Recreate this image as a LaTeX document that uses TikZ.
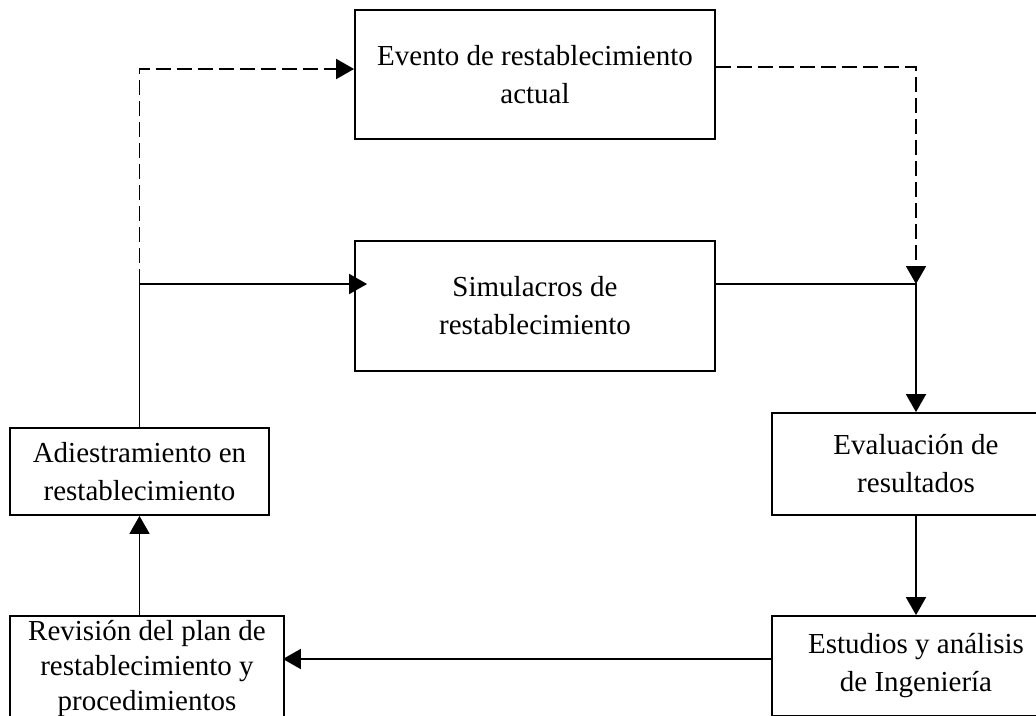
\documentclass[tikz,border=0pt]{standalone}
\usepackage{fontspec}
\setmainfont{Liberation Serif}
\usetikzlibrary{arrows.meta,calc}

\begin{document}
\begin{tikzpicture}[x=1pt, y=-1pt,
    stage/.style={draw=black, line width=1.8pt, fill=white, align=center, inner sep=0pt, font=\fontsize{29}{38}\selectfont},
    flow/.style={line width=1.8pt, -{Triangle[length=18pt, width=20pt]}},
    plan/.style={flow, dash pattern=on 15pt off 6pt}
]
    \useasboundingbox (0,0) rectangle (1036,715);
    \clip (0,0) rectangle (1036,715);

    % --- Stages of the cycle ---
    \node[stage, minimum width=360pt, minimum height=129pt] (evento) at (535,74.5) {Evento de restablecimiento\\actual};
    \node[stage, minimum width=360pt, minimum height=130pt] (simul) at (535,306) {Simulacros de\\restablecimiento};
    \node[stage, minimum width=288pt, minimum height=102pt] (evalua) at (916,464) {Evaluación de\\resultados};
    \node[stage, minimum width=288pt, minimum height=100pt] (estudios) at (916,666) {Estudios y análisis\\de Ingeniería};
    \node[stage, minimum width=274pt, minimum height=104pt, font=\fontsize{29}{35}\selectfont] (revision) at (147,668) {Revisión del plan de\\restablecimiento y\\procedimientos};
    \node[stage, minimum width=259pt, minimum height=87pt] (adiestra) at (139.5,471.5) {Adiestramiento en\\restablecimiento};

    % --- Junctions ---
    \coordinate (split) at (adiestra.north |- 0,284);
    \coordinate (merge) at (evalua.north |- 0,284);

    % --- Connectors ---
    \draw[line width=1.8pt] (adiestra.north) -- (split);
    \draw[flow, shorten >=-13pt] (split) -- (split -| simul.west);
    \draw[plan] (split) -- (split |- 0,69) -- (evento.west |- 0,69);
    \draw[plan] (evento.east |- 0,67) -- (merge |- 0,67) -- (merge);
    \draw[flow] (simul.east |- merge) -- (merge) -- (evalua.north);
    \draw[flow] (evalua.south) -- (estudios.north);
    \draw[flow, shorten >=-2pt] (estudios.west |- 0,659) -- (revision.east |- 0,659);
    \draw[flow] (adiestra.south |- revision.north) -- (adiestra.south);

\end{tikzpicture}
\end{document}
